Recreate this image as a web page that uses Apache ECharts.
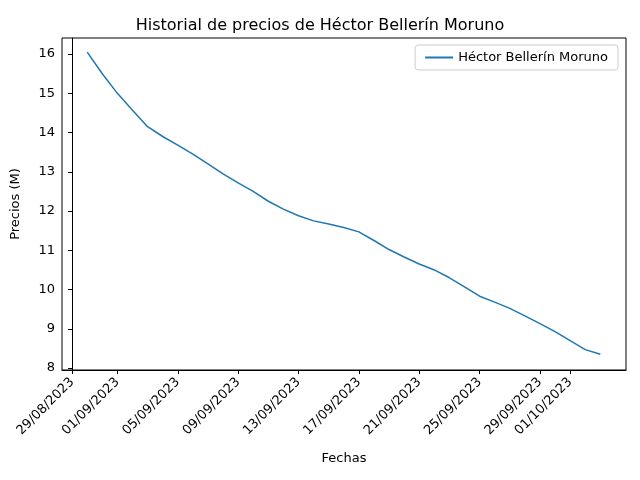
<!DOCTYPE html>
<html><head><meta charset="utf-8">
<script src="https://cdn.jsdelivr.net/npm/echarts@6/dist/echarts.min.js"></script>
<style>html,body{margin:0;padding:0;background:#fff}#c{width:640px;height:480px}</style>
</head><body><div id="c"></div>
<script>
// days counted from 29/08/2023
var dates = ['30/08/2023','31/08/2023','01/09/2023','02/09/2023','03/09/2023','04/09/2023','05/09/2023',
  '06/09/2023','07/09/2023','08/09/2023','09/09/2023','10/09/2023','11/09/2023','12/09/2023','13/09/2023',
  '14/09/2023','15/09/2023','16/09/2023','17/09/2023','18/09/2023','19/09/2023','20/09/2023','21/09/2023',
  '22/09/2023','23/09/2023','24/09/2023','25/09/2023','26/09/2023','27/09/2023','28/09/2023','29/09/2023',
  '30/09/2023','01/10/2023','02/10/2023','03/10/2023'];
var prices = [16.05,15.5,15.0,14.57,14.15,13.9,13.68,13.45,13.2,12.95,12.72,12.5,12.25,12.05,11.88,
  11.75,11.67,11.58,11.47,11.25,11.02,10.83,10.65,10.5,10.3,10.07,9.83,9.68,9.52,9.33,9.13,8.93,8.7,8.47,8.35];
var tickDays = [0,3,7,11,15,19,23,27,31,33];
var tickLabels = ['29/08/2023','01/09/2023','05/09/2023','09/09/2023','13/09/2023','17/09/2023',
  '21/09/2023','25/09/2023','29/09/2023','01/10/2023'];
var yTicks = [8,9,10,11,12,13,14,15,16];

var data = prices.map(function(v,i){ return [i+1, v]; });
var chart = echarts.init(document.getElementById('c'));
var font = 'DejaVu Sans';
chart.setOption({
  animation:false,
  textStyle:{fontFamily:font},
  title:{text:'Historial de precios de Héctor Bellerín Moruno',left:'center',top:13,
    textStyle:{fontFamily:font,fontSize:16,fontWeight:'normal',color:'#000'}},
  legend:{right:22,top:45,orient:'vertical',itemWidth:28,itemHeight:2,icon:'rect',
    backgroundColor:'#fff',borderColor:'#ccc',borderWidth:1,borderRadius:3,padding:[6,10],
    textStyle:{fontFamily:font,fontSize:13,color:'#000'},data:['Héctor Bellerín Moruno']},
  grid:{left:62,right:14,top:38,bottom:110},
  xAxis:{type:'value',min:-0.67,max:36.7,name:'Fechas',nameLocation:'middle',nameGap:82,
    nameTextStyle:{fontSize:13,color:'#000',fontFamily:font},
    axisLine:{show:true,onZero:false,lineStyle:{color:'#000'}},splitLine:{show:false},
    axisTick:{show:true,length:4,customValues:tickDays,lineStyle:{color:'#000'}},
    axisLabel:{customValues:tickDays,rotate:45,margin:10,color:'#000',fontSize:13,fontFamily:font,
      formatter:function(v){ return tickLabels[tickDays.indexOf(v)]; }}},
  yAxis:{type:'value',min:7.95,max:16.41,name:'Precios (M)',nameLocation:'middle',nameGap:40,
    nameTextStyle:{fontSize:13,color:'#000',fontFamily:font},
    axisLine:{show:true,lineStyle:{color:'#000'}},splitLine:{show:false},
    axisTick:{show:true,length:4,customValues:yTicks,lineStyle:{color:'#000'}},
    axisLabel:{customValues:yTicks,margin:7,color:'#000',fontSize:13,fontFamily:font}},
  series:[{name:'Héctor Bellerín Moruno',type:'line',data:data,showSymbol:false,
    lineStyle:{color:'#1f77b4',width:1.5},itemStyle:{color:'#1f77b4'}}]
});
// top and right frame
chart.setOption({graphic:[{type:'rect',shape:{x:62,y:38,width:564,height:332},
  style:{fill:'none',stroke:'#000',lineWidth:1},silent:true}]});
</script></body></html>
